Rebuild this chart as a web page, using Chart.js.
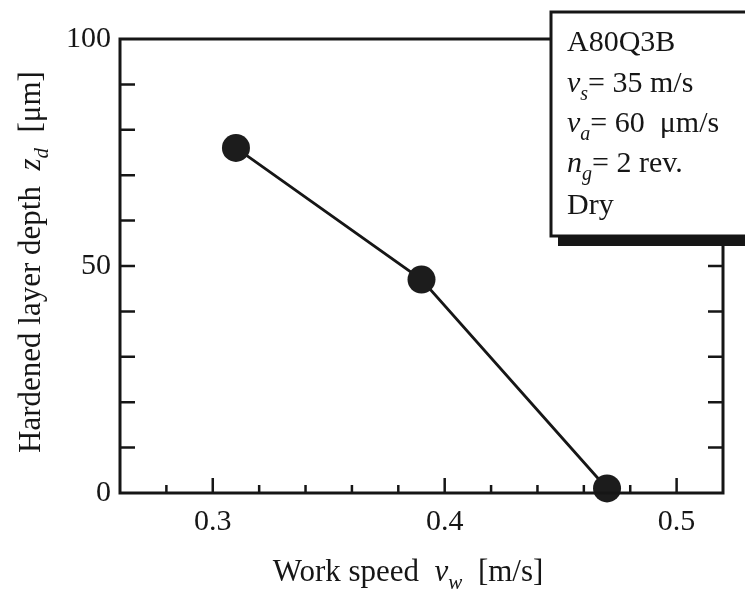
<!DOCTYPE html>
<html>
<head>
<meta charset="utf-8">
<script src="https://cdn.jsdelivr.net/npm/chart.js@4/dist/chart.umd.min.js"></script>
<style>
  html, body { margin: 0; padding: 0; background: #fff; }
  canvas { display: block; }
</style>
</head>
<body>
<canvas id="depthChart" width="745" height="590"></canvas>
<script>
// Work speed vs hardened layer depth
const workSpeed = [0.31, 0.39, 0.47];
const layerDepth = [76, 47, 1];

// Axis ticks (inward marks) and the ones that carry a label
const xTickValues = [0.28, 0.3, 0.32, 0.34, 0.36, 0.38, 0.4, 0.42, 0.44, 0.46, 0.48, 0.5];
const xTickLabels = [0.3, 0.4, 0.5];
const yTickValues = [0, 10, 20, 30, 40, 50, 60, 70, 80, 90, 100];
const yTickLabels = [0, 50, 100];

// Condition box lines: [text, italic, subscript]
const conditionLines = [
  [["A80Q3B", false, false]],
  [["v", true, false], ["s", true, true], ["= 35 m/s", false, false]],
  [["v", true, false], ["a", true, true], ["= 60  \u03bcm/s", false, false]],
  [["n", true, false], ["g", true, true], ["= 2 rev.", false, false]],
  [["Dry", false, false]]
];
const xTitle = [["Work speed  ", false, false], ["v", true, false], ["w", true, true], ["  [m/s]", false, false]];
const yTitle = [["Hardened layer depth  ", false, false], ["z", true, false], ["d", true, true], ["  [\u03bcm]", false, false]];

const FONT = "'Liberation Serif', 'DejaVu Serif', serif";
const INK = "#161616";

function setFont(ctx, italic, sub, size) {
  const px = sub ? Math.round(size * 0.68) : size;
  ctx.font = (italic ? "italic " : "") + px + "px " + FONT;
}

function richWidth(ctx, parts, size) {
  let w = 0;
  parts.forEach(([t, it, sub]) => {
    setFont(ctx, it, sub, size);
    w += ctx.measureText(t).width;
  });
  return w;
}

// draws text pieces left to right from x, baseline y
function drawRich(ctx, parts, x, y, size) {
  ctx.textAlign = "left";
  ctx.textBaseline = "alphabetic";
  parts.forEach(([t, it, sub]) => {
    setFont(ctx, it, sub, size);
    ctx.fillText(t, x, y + (sub ? size * 0.26 : 0));
    x += ctx.measureText(t).width;
  });
}

const framePlugin = {
  id: "frame",
  afterDraw(chart) {
    const ctx = chart.ctx;
    const { left, right, top, bottom } = chart.chartArea;
    const xs = chart.scales.x;
    const ys = chart.scales.y;
    ctx.save();
    ctx.strokeStyle = INK;
    ctx.fillStyle = INK;
    ctx.lineCap = "butt";

    // frame
    ctx.lineWidth = 3;
    ctx.strokeRect(left, top, right - left, bottom - top);

    // inward tick marks
    ctx.lineWidth = 2.5;
    ctx.beginPath();
    xTickValues.forEach(v => {
      const px = xs.getPixelForValue(v);
      const len = xTickLabels.includes(v) ? 15 : 8;
      ctx.moveTo(px, bottom);
      ctx.lineTo(px, bottom - len);
    });
    yTickValues.forEach(v => {
      if (v === 0 || v === 100) return;
      const py = ys.getPixelForValue(v);
      ctx.moveTo(left, py);
      ctx.lineTo(left + 15, py);
      ctx.moveTo(right, py);
      ctx.lineTo(right - 15, py);
    });
    ctx.stroke();

    // axis titles
    const xw = richWidth(ctx, xTitle, 31);
    drawRich(ctx, xTitle, 408 - xw / 2, 581, 31);
    ctx.save();
    ctx.translate(40, 262);
    ctx.rotate(-Math.PI / 2);
    const yw = richWidth(ctx, yTitle, 31);
    drawRich(ctx, yTitle, -yw / 2, 0, 31);
    ctx.restore();

    // condition box with drop shadow
    ctx.fillRect(558, 236, 200, 10);
    ctx.fillStyle = "#fff";
    ctx.fillRect(551, 12, 210, 224);
    ctx.lineWidth = 3;
    ctx.strokeRect(551, 12, 210, 224);
    ctx.fillStyle = INK;
    const baselines = [51, 92, 132, 172, 214];
    conditionLines.forEach((line, i) => drawRich(ctx, line, 567, baselines[i], 30));
    ctx.restore();
  }
};

new Chart(document.getElementById("depthChart"), {
  type: "scatter",
  data: {
    datasets: [{
      data: workSpeed.map((v, i) => ({ x: v, y: layerDepth[i] })),
      showLine: true,
      borderColor: INK,
      borderWidth: 2.8,
      pointRadius: 14,
      pointHoverRadius: 14,
      pointBackgroundColor: "#1c1c1c",
      pointBorderWidth: 0,
      clip: false
    }]
  },
  options: {
    responsive: false,
    animation: false,
    layout: { padding: { top: 39, right: 22, left: 0, bottom: 0 } },
    plugins: { legend: { display: false }, tooltip: { enabled: false } },
    scales: {
      x: {
        type: "linear",
        min: 0.26,
        max: 0.52,
        afterBuildTicks: s => { s.ticks = xTickValues.map(v => ({ value: v })); },
        afterFit: s => { s.height = 97; },
        grid: { display: false, drawTicks: false },
        border: { display: false },
        ticks: {
          autoSkip: false,
          maxRotation: 0,
          padding: 11,
          color: INK,
          font: { family: FONT, size: 30 },
          callback: v => xTickLabels.includes(v) ? v.toFixed(1) : ""
        }
      },
      y: {
        min: 0,
        max: 100,
        afterBuildTicks: s => { s.ticks = yTickValues.map(v => ({ value: v })); },
        afterFit: s => { s.width = 120; },
        grid: { display: false, drawTicks: false },
        border: { display: false },
        ticks: {
          autoSkip: false,
          padding: 9,
          color: INK,
          font: { family: FONT, size: 30 },
          callback: v => yTickLabels.includes(v) ? String(v) : ""
        }
      }
    }
  },
  plugins: [framePlugin]
});
</script>
</body>
</html>
